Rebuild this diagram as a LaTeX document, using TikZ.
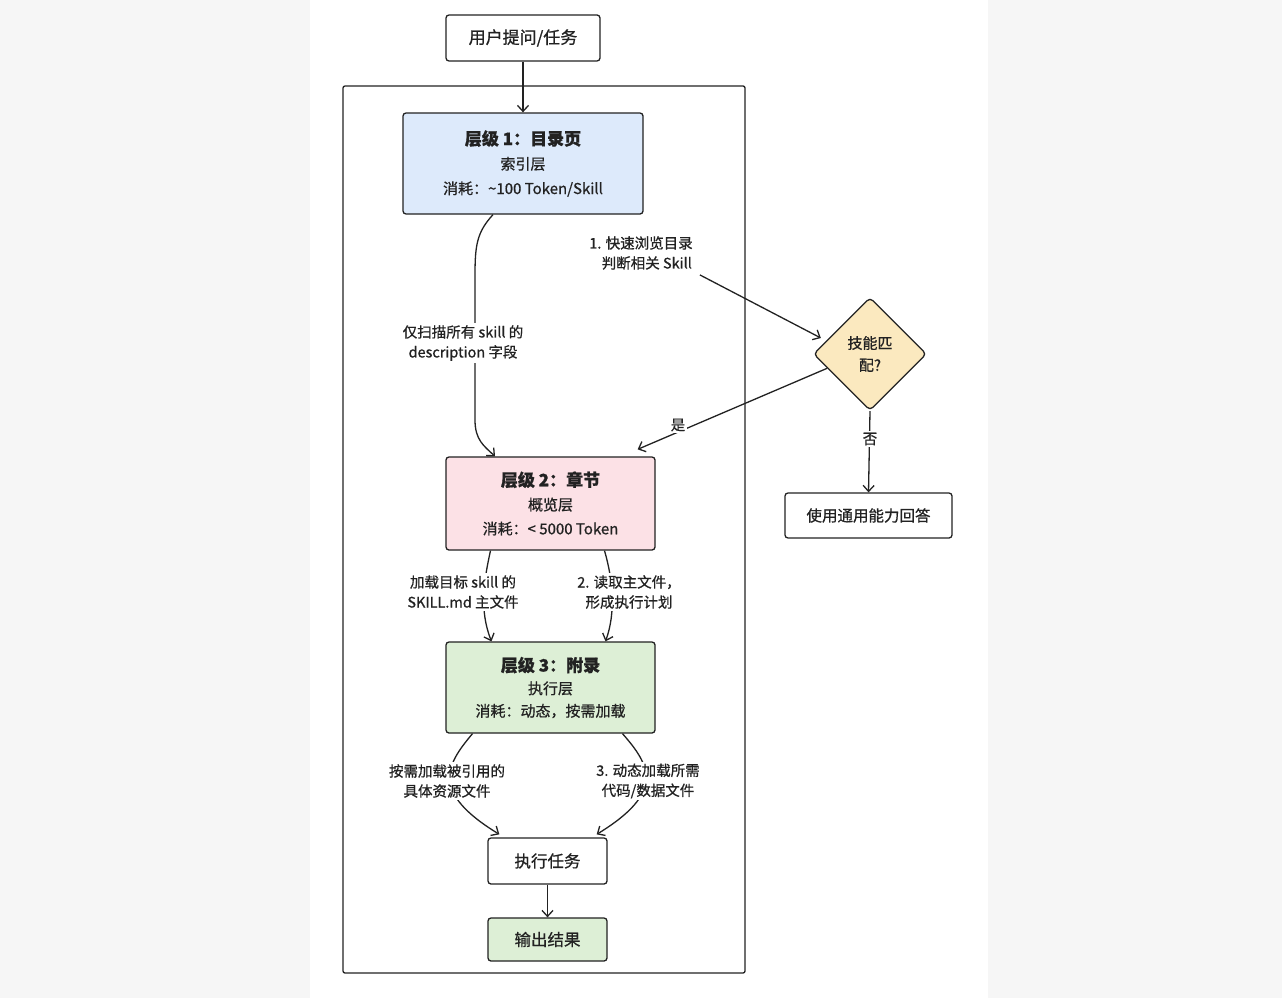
\documentclass[tikz,border=0pt]{standalone}
\usepackage{fontspec}
\setmainfont{Noto Sans CJK SC}[FakeBold=0.8]
\usetikzlibrary{arrows.meta,shapes.geometric,calc}
\definecolor{bgout}{HTML}{F6F6F6}
\definecolor{ink}{HTML}{222222}
\definecolor{blue1}{HTML}{DDEAFB}
\definecolor{pink1}{HTML}{FCE1E6}
\definecolor{green1}{HTML}{DDEFD6}
\definecolor{yel1}{HTML}{FBE9BF}
\tikzset{
  box/.style={draw=ink, line width=1.3pt, rounded corners=3pt, align=center, inner sep=0pt},
  boxtxt/.style={font=\fontsize{15.5}{20}\selectfont},
  arr/.style={draw=ink, line width=1.3pt, -{Straight Barb[length=6pt,width=11pt,line width=1.3pt]}},
  lbl/.style={fill=white, align=center, inner sep=2pt, font=\fontsize{14.5}{20}\selectfont, text=ink},
  dec/.style={diamond, draw=ink, line width=1.3pt, rounded corners=4pt, fill=yel1, minimum width=113pt, minimum height=113pt, inner sep=0pt, align=center, font=\fontsize{15}{22}\selectfont}
}
\newcommand{\ttlfont}{\bfseries\fontsize{17}{25}\selectfont}
\begin{document}
\begin{tikzpicture}[x=1pt,y=-1pt]
\useasboundingbox (0,0) rectangle (1282,998);
\fill[bgout] (0,0) rectangle (1282,998);
\fill[white] (310,0) rectangle (988,998);
% frame
\node[draw=ink, line width=1.3pt, rounded corners=2pt, minimum width=402pt, minimum height=887pt, inner sep=0pt] (frame) at (544,529.5) {};
% nodes
\node[box, font=\fontsize{17}{20}\selectfont, minimum width=154pt, minimum height=46pt, text=ink] (user) at (523,38) {用户提问/任务};
\node[box, fill=blue1, minimum width=240pt, minimum height=101pt, text=ink, font=\fontsize{15}{24.5}\selectfont] (l1) at (523,163.5) {{\ttlfont 层级 1：目录页}\\索引层\\消耗：\textasciitilde100 Token/Skill};
\node[box, fill=pink1, minimum width=209pt, minimum height=93pt, text=ink, font=\fontsize{15}{24}\selectfont] (l2) at (550.5,503.5) {{\ttlfont 层级 2：章节}\\概览层\\消耗：< 5000 Token};
\node[box, fill=green1, minimum width=209pt, minimum height=91pt, text=ink, font=\fontsize{15}{22.5}\selectfont] (l3) at (550.5,687.5) {{\ttlfont 层级 3：附录}\\执行层\\消耗：动态，按需加载};
\node[box, font=\fontsize{16.5}{20}\selectfont, minimum width=119pt, minimum height=46pt, text=ink] (exec) at (547.5,861) {执行任务};
\node[box, font=\fontsize{16.5}{20}\selectfont, fill=green1, minimum width=119pt, minimum height=43pt, text=ink] (out) at (547.5,939.5) {输出结果};
\node[dec, text=ink] (dia) at (870,354) {技能匹\\配?};
\node[box, boxtxt, minimum width=167pt, minimum height=45pt, text=ink] (gen) at (868.5,515.5) {使用通用能力回答};
\node[lbl] (lab1) at (641,253) {1. 快速浏览目录\\\hspace*{0.8em}判断相关 Skill};
% edges
\draw[arr] (user.south) -- (l1.north);
\draw[arr] ([xshift=-30pt]l1.south) .. controls (477,232) and (475,245) .. (475,275) -- (475,420) .. controls (475,440) and (484,446) .. ([xshift=-55.5pt]l2.north);
\draw[arr] ($(lab1.south east)+(5,3)$) -- ($(dia.west)+(8,-16)$);
\draw[arr] ($(dia.west)!0.25!(dia.south)$) -- ($(l2.north east)+(-18,-7)$);
\draw[arr] (dia.south) -- (gen.north);
\draw[arr] ([xshift=-60pt]l2.south) .. controls (484,580) and (479,610) .. ([xshift=-59pt]l3.north);
\draw[arr] ([xshift=54pt]l2.south) .. controls (613,580) and (616,612) .. ([xshift=55pt]l3.north);
\draw[arr] ([xshift=-78pt]l3.south) .. controls (446,765) and (430,792) .. ($(exec.north west)+(12,-3)$);
\draw[arr] ([xshift=72pt]l3.south) .. controls (650,765) and (666,792) .. ($(exec.north east)+(-11,-3)$);
\draw[arr] (exec.south) -- (out.north);
% label nodes over lines
\node[lbl] (lab0) at (463,343) {仅扫描所有 skill 的\\description 字段};
\node[lbl] (labyes) at (678,425) {是};
\node[lbl] (labno) at (870,439) {否};
\node[lbl] (lab2l) at (463,592) {加载目标 skill 的\\SKILL.md 主文件};
\node[lbl] (lab2r) at (629,592) {2. 读取主文件，\\形成执行计划};
\node[lbl] (lab3l) at (447,781) {按需加载被引用的\\具体资源文件};
\node[lbl] (lab3r) at (648,781) {3. 动态加载所需\\代码/数据文件};
\end{tikzpicture}
\end{document}
